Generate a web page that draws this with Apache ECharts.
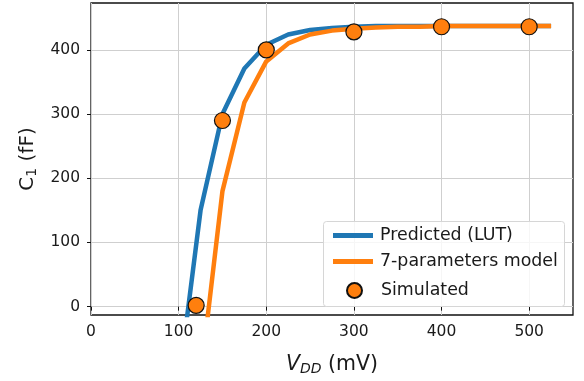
<!DOCTYPE html>
<html>
<head>
<meta charset="utf-8">
<script src="https://cdn.jsdelivr.net/npm/echarts@6/dist/echarts.min.js"></script>
<style>
  html, body { margin: 0; padding: 0; background: #fff; }
  #chart { width: 584px; height: 381px; }
</style>
</head>
<body>
<div id="chart"></div>
<script>
// sweep of V_DD (mV) used for both curves
var vddSweep = [100, 125, 150, 175, 200, 225, 250, 275, 300, 325, 350, 375, 400, 425, 450, 475, 500, 525];
var predictedLUT = [-120, 150, 300, 371, 408, 424, 431, 434, 436, 437, 437, 437, 437, 437, 437, 437, 437, 437];
var sevenParam = [-420, -110, 180, 318, 382, 410, 424, 430, 433, 435, 436, 436, 437, 437, 437, 437, 437, 437];

// simulated points
var simVdd = [120, 150, 200, 300, 400, 500];
var simC1 = [2, 290, 400, 428, 436, 436];

var xTicks = [0, 100, 200, 300, 400, 500];
var yTicks = [0, 100, 200, 300, 400];

var pairs = function (xs, ys) { return xs.map(function (x, i) { return [x, ys[i]]; }); };

var chart = echarts.init(document.getElementById('chart'));
var tickFont = { fontSize: 15.5, color: '#1a1a1a', fontFamily: 'DejaVu Sans' };
var legendText = { fontSize: 17.4, color: '#1a1a1a', fontFamily: 'DejaVu Sans' };

var option = {
    animation: false,
    grid: {
        left: 91, right: 11, top: 3, bottom: 66,
        show: true, borderColor: '#111', borderWidth: 1.3
    },
    xAxis: {
        type: 'value', min: 0, max: 550,
        name: '{it|V}{sub|DD} (mV)',
        nameLocation: 'middle', nameGap: 38,
        nameTextStyle: {
            fontSize: 20.5, color: '#1a1a1a', fontFamily: 'DejaVu Sans',
            rich: {
                it: { fontSize: 20.5, fontStyle: 'italic', fontFamily: 'DejaVu Sans', color: '#1a1a1a' },
                sub: { fontSize: 14, fontStyle: 'italic', fontFamily: 'DejaVu Sans', color: '#1a1a1a', padding: [9, 0, 0, 0] }
            }
        },
        axisLine: { show: false },
        axisTick: { show: true, customValues: xTicks, length: 4, lineStyle: { color: '#111' } },
        axisLabel: Object.assign({ customValues: xTicks, margin: 9 }, tickFont),
        splitLine: { show: true, lineStyle: { color: '#cfcfcf', width: 1 } }
    },
    yAxis: {
        type: 'value', min: -13, max: 473,
        name: 'C{sub|1} (fF)',
        nameLocation: 'middle', nameGap: 50,
        nameTextStyle: {
            fontSize: 20, color: '#1a1a1a', fontFamily: 'DejaVu Sans',
            rich: {
                sub: { fontSize: 14, fontFamily: 'DejaVu Sans', color: '#1a1a1a', padding: [9, 0, 0, 0] }
            }
        },
        axisLine: { show: false },
        axisTick: { show: true, customValues: yTicks, length: 4, lineStyle: { color: '#111' } },
        axisLabel: Object.assign({ customValues: yTicks, margin: 11 }, tickFont),
        splitLine: { show: true, lineStyle: { color: '#cfcfcf', width: 1 } }
    },
    graphic: [{
        type: 'rect', left: 323, top: 221, z: 50,
        shape: { width: 241, height: 85, r: 3 },
        style: { fill: 'rgba(255,255,255,0.8)', stroke: '#d6d6d6', lineWidth: 1 }
    }],
    legend: [
        {
            data: [{ name: 'Predicted (LUT)', icon: 'rect' }],
            left: 328, top: 222, itemWidth: 40, itemHeight: 5, z: 60,
            textStyle: Object.assign({ padding: [0, 0, 0, 2] }, legendText)
        },
        {
            data: [{ name: '7-parameters model', icon: 'rect' }],
            left: 328, top: 248, itemWidth: 40, itemHeight: 5, z: 60,
            textStyle: Object.assign({ padding: [0, 0, 0, 2] }, legendText)
        },
        {
            data: [{ name: 'Simulated', icon: 'circle' }],
            left: 341, top: 277, itemWidth: 15, itemHeight: 15, z: 60,
            textStyle: Object.assign({ padding: [0, 0, 0, 14] }, legendText)
        }
    ],
    series: [
        {
            name: 'Predicted (LUT)', type: 'line', symbol: 'none',
            data: pairs(vddSweep, predictedLUT),
            lineStyle: { color: '#1f77b4', width: 4.5 },
            itemStyle: { color: '#1f77b4' }, z: 2
        },
        {
            name: '7-parameters model', type: 'line', symbol: 'none',
            data: pairs(vddSweep, sevenParam),
            lineStyle: { color: '#ff7f0e', width: 4.5 },
            itemStyle: { color: '#ff7f0e' }, z: 3
        },
        {
            name: 'Simulated', type: 'scatter', symbol: 'circle', symbolSize: 16,
            data: pairs(simVdd, simC1),
            itemStyle: { color: '#ff7f0e', opacity: 1, borderColor: '#111', borderWidth: 1.2 }, z: 4
        }
    ]
};

chart.setOption(option);
</script>
</body>
</html>
